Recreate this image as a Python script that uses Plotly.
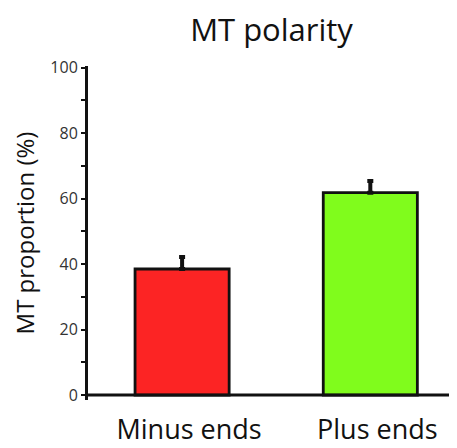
import plotly.graph_objects as go

categories = ["Minus ends", "Plus ends"]
values = [38.5, 61.8]
errors = [3.7, 3.6]
colors = ["#fc2424", "#80fc1c"]
y_ticks = [0, 20, 40, 60, 80, 100]

fig = go.Figure()
fig.add_trace(go.Bar(
    x=categories, y=values, width=0.5,
    marker=dict(color=colors, line=dict(color="#111111", width=2.8)),
    error_y=dict(type="data", array=errors, arrayminus=[0, 0], symmetric=False,
                 color="#111111", thickness=4, width=3),
    showlegend=False,
))
fig.add_shape(type="line", xref="paper", yref="y", x0=0, x1=1, y0=0, y1=0,
              line=dict(color="#111111", width=3))

# page body has an 8px default margin, so the figure is sized/positioned to compensate
fig.update_layout(
    width=449, height=440,
    margin=dict(l=80, r=2, t=58, b=48, autoexpand=False),
    paper_bgcolor="white", plot_bgcolor="white",
    font=dict(family="Open Sans, Noto Sans, sans-serif", color="#222222"),
    title=dict(text="MT polarity", x=0.5, xref="paper", xanchor="center",
               y=0.95, yref="container", yanchor="middle",
               font=dict(size=31, color="#111111")),
    bargap=0.5,
)
fig.update_xaxes(range=[-0.5, 1.45], showline=False, showgrid=False, zeroline=False,
                 ticks="", tickfont=dict(size=27, color="#111111"),
                 ticklabelstandoff=11, ticklabelshift=7, automargin=False)
fig.update_yaxes(range=[-1.5, 100.5], showline=True, linecolor="#111111", linewidth=3,
                 showgrid=False, zeroline=False, tickvals=y_ticks,
                 ticks="outside", ticklen=4, tickwidth=2, tickcolor="#111111",
                 tickfont=dict(size=16, color="#333333"), automargin=False,
                 minor=dict(tickvals=[10, 30, 50, 70, 90], ticks="outside", ticklen=4,
                            tickwidth=2, tickcolor="#111111"),
                 title=dict(text="MT proportion (%)", font=dict(size=24, color="#111111"),
                            standoff=12))

fig.write_html("out.html")
